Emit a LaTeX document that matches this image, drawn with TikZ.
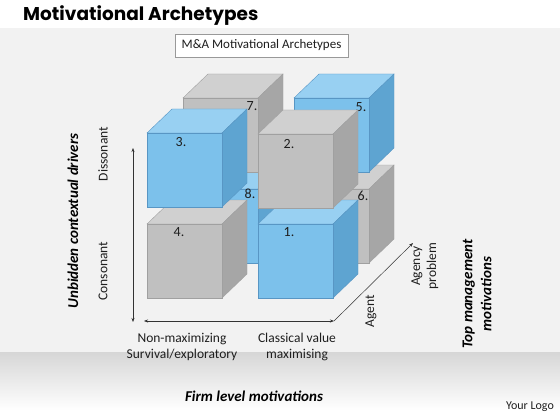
\documentclass[tikz,border=0pt]{standalone}
\usepackage{fontspec}
\setmainfont{Carlito}
\newfontfamily\titlefont{Poppins}
\usetikzlibrary{arrows.meta}
\definecolor{bandgray}{RGB}{242,242,242}
\definecolor{lowgray}{RGB}{214,214,214}
\definecolor{blueF}{RGB}{124,193,235}
\definecolor{blueT}{RGB}{152,208,242}
\definecolor{blueS}{RGB}{94,164,209}
\definecolor{blueE}{RGB}{88,150,196}
\definecolor{grayF}{RGB}{192,192,192}
\definecolor{grayT}{RGB}{208,208,208}
\definecolor{grayS}{RGB}{166,166,166}
\definecolor{grayE}{RGB}{160,160,160}
\definecolor{txt}{RGB}{30,30,30}
\newcommand\mycube[3]{%
  \begin{scope}[shift={(#1,#2)}]
    \filldraw[fill=#3T, draw=#3E, line width=0.4pt] (0,0) -- (25,-24) -- (100,-24) -- (75,0) -- cycle;
    \filldraw[fill=#3S, draw=#3E, line width=0.4pt] (75,0) -- (100,-24) -- (100,50) -- (75,74) -- cycle;
    \filldraw[fill=#3F, draw=#3E, line width=0.4pt] (0,0) rectangle (75,74);
  \end{scope}}
\tikzset{
  numlabel/.style={font=\fontsize{14}{15}\selectfont, text=txt, inner sep=0pt},
  axlabel/.style={font=\fontsize{13.5}{16}\selectfont, text=txt, align=center, inner sep=0pt},
  biglabel/.style={font=\bfseries\itshape\fontsize{15}{19}\selectfont, text=black, align=center, inner sep=0pt},
  axis/.style={line width=0.5pt, draw=black!80, {Stealth[length=4pt,width=3pt]}-{Stealth[length=4pt,width=3pt]}}
}
\begin{document}
\begin{tikzpicture}[x=1pt,y=-1pt]
\useasboundingbox (0,0) rectangle (560,420);
\fill[white] (0,0) rectangle (560,420);
\fill[bandgray] (0,28) rectangle (560,352);
\shade[top color=lowgray, bottom color=white] (0,352) rectangle (560,410);

% title
\node[anchor=west, inner sep=0pt] (title) at (23,16) {\titlefont\bfseries\fontsize{18.5}{20}\selectfont Motivational Archetypes};
\node[draw=gray!80, fill=white, line width=0.5pt, minimum width=173pt, minimum height=23pt, inner sep=0pt, font=\fontsize{13}{15}\selectfont, text=txt] (box) at (261.5,45.5) {M\&A Motivational Archetypes};

% back layer
\mycube{183}{189}{blue}
\mycube{294}{189}{gray}
\mycube{183}{98}{gray}
\mycube{294}{98}{blue}
\node[numlabel] (n8) at (250,194) {8.};
\node[numlabel] (n6) at (363,196) {6.};
\node[numlabel] (n7) at (252,106) {7.};
\node[numlabel] (n5) at (361,107) {5.};
% front layer
\mycube{147}{224}{gray}
\mycube{258}{224}{blue}
\mycube{147}{133}{blue}
\mycube{258}{134}{gray}
\node[numlabel] (n4) at (179,232) {4.};
\node[numlabel] (n1) at (289,232) {1.};
\node[numlabel] (n3) at (181,142) {3.};
\node[numlabel] (n2) at (289,144) {2.};

% axes
\coordinate (vtop) at (133,148);
\coordinate (vbot) at (133,322);
\coordinate (hl) at (144,321);
\coordinate (hr) at (334,321);
\coordinate (dtop) at (413,243);
\draw[axis] (vbot) -- (vtop);
\draw[axis] (hl) -- (hr);
\draw[line width=0.5pt, draw=black!80, -{Stealth[length=4pt,width=3pt]}] (hr) -- (dtop);

% axis labels
\node[axlabel, rotate=90] (diss) at (103,154) {Dissonant};
\node[axlabel, rotate=90] (cons) at (103,271) {Consonant};
\node[biglabel, rotate=90] (unb) at (73,221) {Unbidden contextual drivers};
\node[axlabel] (nonmax) at (182,347) {Non-maximizing\\Survival/exploratory};
\node[axlabel] (class) at (297,347) {Classical value\\maximising};
\node[axlabel, rotate=90] (agent) at (371,311) {Agent};
\node[axlabel, rotate=90] (agency) at (425,266) {Agency\\problem};
\node[biglabel, rotate=90] (topm) at (477,294) {Top management\\motivations};
\node[biglabel] (firm) at (254,396) {Firm level motivations};
\node[font=\fontsize{12}{14}\selectfont, text=txt, inner sep=0pt] (logo) at (530,407) {Your Logo};
\end{tikzpicture}
\end{document}
